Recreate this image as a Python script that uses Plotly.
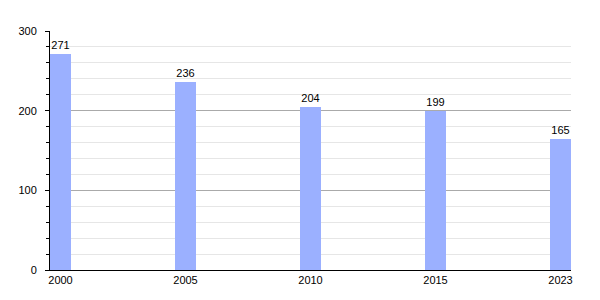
import plotly.graph_objects as go

years = ["2000", "2005", "2010", "2015", "2023"]
values = [271, 236, 204, 199, 165]

xpos = list(range(len(years)))

fig = go.Figure(go.Bar(
    x=xpos, y=values, width=0.168,
    marker=dict(color="#9bb0ff", line=dict(width=0)),
    text=[str(v) for v in values], textposition="outside",
    textfont=dict(size=11, color="#000000", family="Liberation Sans, Arial"),
    cliponaxis=False,
))

fig.update_layout(
    width=600, height=300,
    margin=dict(l=50, r=29, t=31, b=30),
    plot_bgcolor="white", paper_bgcolor="white",
    font=dict(family="Liberation Sans, Arial", size=11, color="#000000"),
    showlegend=False,
    bargap=0,
)
fig.update_xaxes(
    range=[-0.084, 4.084], tickvals=xpos, ticktext=years,
    showgrid=False, showline=True, linecolor="#000000", linewidth=1,
    ticks="", zeroline=False, tickfont=dict(size=11),
)
fig.update_yaxes(
    range=[0, 300], tickvals=[0, 100, 200, 300],
    showgrid=True, gridcolor="#aaaaaa", gridwidth=1,
    showline=True, linecolor="#000000", linewidth=1,
    ticks="outside", ticklen=4, tickcolor="#000000",
    ticklabelstandoff=6,
    zeroline=False, tickfont=dict(size=11),
    minor=dict(dtick=20, showgrid=True, gridcolor="#e6e6e6", ticks="outside", ticklen=3, tickcolor="#000000"),
)

fig.write_html("out.html")
